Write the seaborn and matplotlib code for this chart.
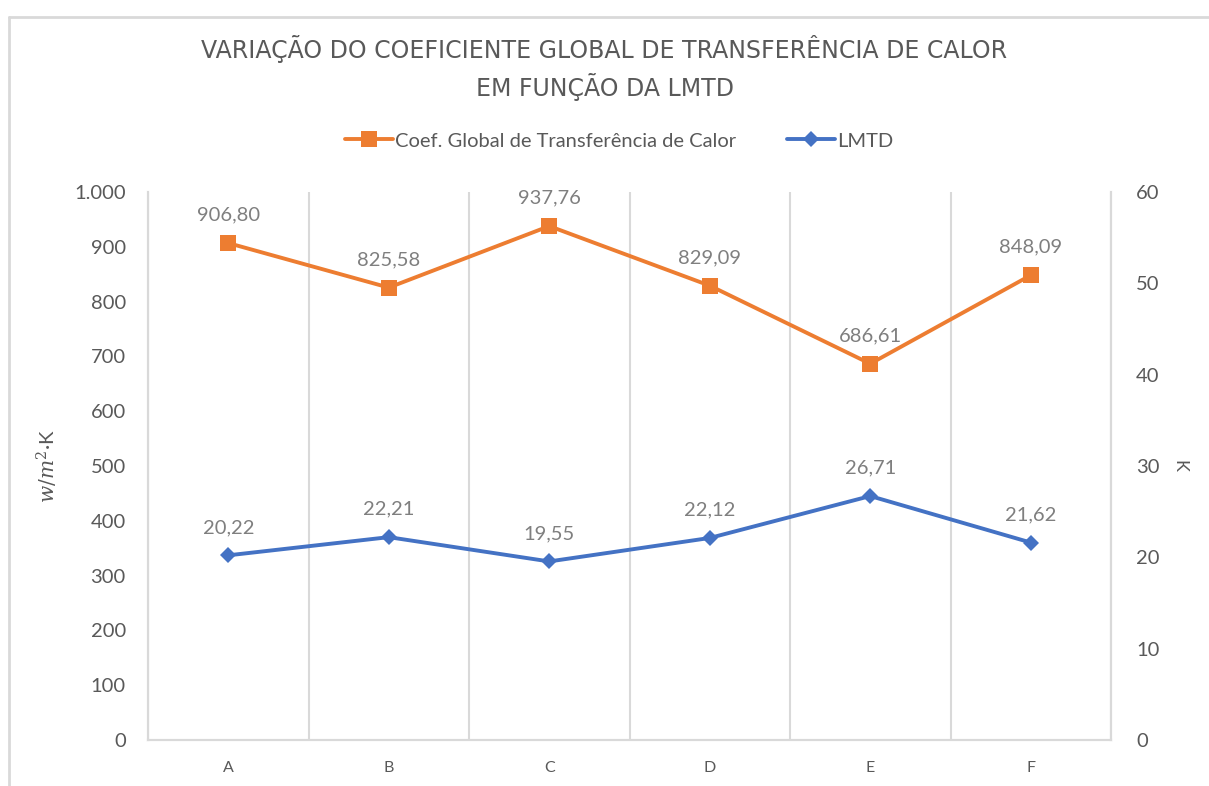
import matplotlib
matplotlib.use("Agg")
import matplotlib.pyplot as plt
import matplotlib.ticker as mticker
from matplotlib.lines import Line2D
import seaborn as sns
import pandas as pd

categories = ["A", "B", "C", "D", "E", "F"]
coef_global = [906.80, 825.58, 937.76, 829.09, 686.61, 848.09]
lmtd = [20.22, 22.21, 19.55, 22.12, 26.71, 21.62]

title = "VARIAÇÃO DO COEFICIENTE GLOBAL DE TRANSFERÊNCIA DE CALOR\nEM FUNÇÃO DA LMTD"
label_coef = "Coef. Global de Transferência de Calor"
label_lmtd = "LMTD"

ORANGE = "#ED7D31"
BLUE = "#4472C4"
GRAY_TXT = "#595959"
GRAY_LBL = "#7F7F7F"
GRID = "#D9D9D9"

sns.set_theme(style="white")
plt.rcParams["font.family"] = ["Lato", "DejaVu Sans"]
plt.rcParams["mathtext.fontset"] = "dejavuserif"

df = pd.DataFrame({"cat": categories, "coef": coef_global, "lmtd": lmtd})

fig = plt.figure(figsize=(12.09, 7.86), dpi=100)
ax = fig.add_axes([148 / 1209, 1 - 740 / 786, (1111 - 148) / 1209, (740 - 192) / 786])
ax2 = ax.twinx()

sns.lineplot(data=df, x="cat", y="coef", ax=ax, color=ORANGE, lw=2.8,
             marker="s", markersize=11, markeredgewidth=0, label=label_coef, legend=False)
sns.lineplot(data=df, x="cat", y="lmtd", ax=ax2, color=BLUE, lw=2.8,
             marker="D", markersize=8.5, markeredgewidth=0, label=label_lmtd, legend=False)

# data labels
for i, v in enumerate(coef_global):
    ax.annotate(f"{v:.2f}".replace(".", ","), (i, v), xytext=(0, 14), textcoords="offset points",
                ha="center", va="bottom", fontsize=14.5, color=GRAY_LBL)
for i, v in enumerate(lmtd):
    ax2.annotate(f"{v:.2f}".replace(".", ","), (i, v), xytext=(0, 14), textcoords="offset points",
                 ha="center", va="bottom", fontsize=14.5, color=GRAY_LBL)

ax.set_xlim(-0.5, 5.5)
ax.set_ylim(0, 1000)
ax2.set_ylim(0, 60)
ax.set_yticks(range(0, 1001, 100))
ax.yaxis.set_major_formatter(mticker.FuncFormatter(lambda v, p: f"{int(v):,}".replace(",", ".")))
ax2.set_yticks(range(0, 61, 10))

# vertical grid at category boundaries
ax.set_xticks([i + 0.5 for i in range(-1, 6)], minor=True)
ax.grid(False)
ax2.grid(False)
ax.grid(True, which="minor", axis="x", color=GRID, lw=1.5)

for a in (ax, ax2):
    a.tick_params(axis="both", which="both", length=0, colors=GRAY_TXT, labelsize=14.5)
    a.spines["top"].set_visible(False)
    for s in ("left", "right", "bottom"):
        a.spines[s].set_color(GRID)
        a.spines[s].set_linewidth(1.5)
ax.tick_params(axis="x", labelsize=11.5, pad=15)
ax.tick_params(axis="y", pad=16)
ax2.tick_params(axis="y", pad=18)

ax.set_xlabel("")
ax.set_ylabel(r"$w/m^{2}$·K", fontsize=14.5, color=GRAY_TXT, labelpad=10)
ax2.set_ylabel("K", fontsize=13, color=GRAY_TXT, rotation=270, labelpad=14, va="center")

fig.text(0.5, 1 - 68 / 786, title, ha="center", va="center", fontsize=17,
         color=GRAY_TXT, linespacing=1.4, family=["DejaVu Sans"])

handles = [
    Line2D([], [], color=ORANGE, lw=2.8, marker="s", markersize=11, markeredgewidth=0),
    Line2D([], [], color=BLUE, lw=2.8, marker="D", markersize=8.5, markeredgewidth=0),
]
fig.legend(handles, [label_coef, label_lmtd], loc="center", bbox_to_anchor=(0.512, 1 - 141 / 786),
           ncol=2, frameon=False, fontsize=14.5, labelcolor=GRAY_TXT, handlelength=2.4,
           handletextpad=0.1, columnspacing=2.5)

# chart area border (top and left visible)
fig.add_artist(Line2D([9 / 1209, 1.0], [1 - 17 / 786] * 2, transform=fig.transFigure,
                      color=GRID, lw=2))
fig.add_artist(Line2D([9 / 1209] * 2, [0.0, 1 - 17 / 786], transform=fig.transFigure,
                      color=GRID, lw=2))

fig.savefig("out.png", dpi=100, facecolor="white")
